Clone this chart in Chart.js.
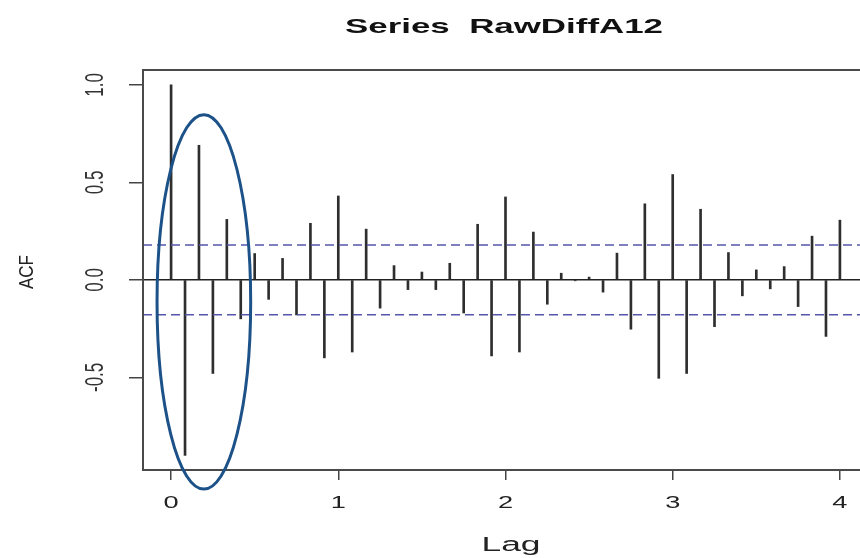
<!DOCTYPE html>
<html>
<head>
<meta charset="utf-8">
<title>Series RawDiffA12</title>
<script src="https://cdn.jsdelivr.net/npm/chart.js@4"></script>
<style>
    html, body { margin: 0; padding: 0; background: #fff; overflow: hidden; }
    #wrap { width: 872px; height: 558px; }
</style>
</head>
<body>
<div id="wrap"><canvas id="acfChart" width="872" height="558"></canvas></div>
<script>
// ====== Data ======
const seriesName = 'RawDiffA12';
const lagTicks = [0, 1, 2, 3, 4];
const acfTicks = [-0.5, 0, 0.5, 1];
const acfTickLabels = ['-0.5', '0.0', '0.5', '1.0'];
// acf at lags 0..48 months (frequency 12)
const acfValues = [
    1.00, -0.90, 0.69, -0.48, 0.31, -0.20, 0.135, -0.10, 0.11, -0.18, 0.29, -0.40,
    0.43, -0.37, 0.26, -0.145, 0.073, -0.05, 0.04, -0.05, 0.085, -0.17, 0.285, -0.39,
    0.425, -0.37, 0.245, -0.125, 0.034, -0.005, 0.014, -0.063, 0.137, -0.253, 0.39, -0.505,
    0.54, -0.48, 0.362, -0.24, 0.14, -0.082, 0.051, -0.046, 0.068, -0.137, 0.224, -0.29,
    0.306
];
const frequency = 12;
const confLimit = 0.179;
// highlight ellipse (data units): centre lag, centre acf, half-widths
const ellipseLag = 0.196, ellipseAcf = -0.113, ellipseRx = 0.28, ellipseRy = 0.96;

document.addEventListener('DOMContentLoaded', () => {
    const lags = acfValues.map((_, k) => k / frequency);
    const xMin = -0.168, xMax = 4.168;
    const yMin = -0.975, yMax = 1.076;
    const FONT = '"Liberation Sans", Arial, sans-serif';

    // stretched text helper (the reference image is widened horizontally)
    function drawText(ctx, text, x, y, opts) {
        ctx.save();
        ctx.font = opts.font;
        ctx.fillStyle = opts.color || '#222';
        ctx.textAlign = opts.align || 'center';
        ctx.textBaseline = 'alphabetic';
        let sx = opts.sx || 1;
        if (opts.width) sx = opts.width / ctx.measureText(text).width;
        ctx.translate(x, y);
        ctx.scale(sx, 1);
        if (opts.rot) ctx.rotate(opts.rot);
        ctx.fillText(text, 0, 0);
        ctx.restore();
    }

    // ====== Decorations: frame, texts, ellipse ======
    const decor = {
        id: 'decor',
        afterDraw(chart) {
            const { ctx, chartArea: a, scales: { x, y } } = chart;

            ctx.save();
            ctx.strokeStyle = '#4a4a4a';
            ctx.lineWidth = 2;
            ctx.strokeRect(a.left, a.top, a.right - a.left, a.bottom - a.top);
            ctx.restore();

            drawText(ctx, 'Series  ' + seriesName, 504, 33, { font: 'bold 21px ' + FONT, width: 318, color: '#111' });
            drawText(ctx, 'Lag', 511, 551, { font: '20px ' + FONT, width: 59, color: '#222' });
            drawText(ctx, 'ACF', 33, 272, { font: '17px ' + FONT, sx: 1.15, rot: -Math.PI / 2, color: '#222' });

            lagTicks.forEach(v => {
                drawText(ctx, String(v), x.getPixelForValue(v), 508, { font: '17px ' + FONT, sx: 1.6, color: '#222' });
            });
            acfTicks.forEach((v, i) => {
                drawText(ctx, acfTickLabels[i], 103, y.getPixelForValue(v), { font: '17px ' + FONT, sx: 1.55, rot: -Math.PI / 2, color: '#333' });
            });

            ctx.save();
            ctx.strokeStyle = '#1d5289';
            ctx.lineWidth = 3;
            const cx = x.getPixelForValue(ellipseLag), cy = y.getPixelForValue(ellipseAcf);
            const rx = x.getPixelForValue(ellipseLag + ellipseRx) - cx;
            const ry = cy - y.getPixelForValue(ellipseAcf + ellipseRy);
            ctx.beginPath();
            ctx.ellipse(cx, cy, rx, ry, 0, 0, Math.PI * 2);
            ctx.stroke();
            ctx.restore();
        }
    };

    const hLine = v => [{ x: xMin, y: v }, { x: xMax, y: v }];

    new Chart(document.getElementById('acfChart'), {
        type: 'line',
        data: {
            datasets: [
                {
                    type: 'bar',
                    data: lags.map((l, i) => ({ x: l, y: acfValues[i] })),
                    backgroundColor: '#2e2e2e',
                    barThickness: 2,
                    grouped: false,
                    order: 2
                },
                { data: hLine(0), borderColor: '#222', borderWidth: 1.5, pointRadius: 0, order: 1 },
                { data: hLine(confLimit), borderColor: '#5656ac', borderWidth: 1.6, borderDash: [9, 5], pointRadius: 0, order: 1 },
                { data: hLine(-confLimit), borderColor: '#5656ac', borderWidth: 1.6, borderDash: [9, 5], pointRadius: 0, order: 1 }
            ]
        },
        options: {
            responsive: false,
            animation: false,
            devicePixelRatio: 1,
            layout: { padding: { left: 0, top: 70, right: 4, bottom: 0 } },
            plugins: { legend: { display: false }, tooltip: { enabled: false }, title: { display: false } },
            scales: {
                x: {
                    type: 'linear', min: xMin, max: xMax, offset: false,
                    ticks: { stepSize: 1, includeBounds: false, display: false },
                    grid: { drawOnChartArea: false, drawTicks: true, tickLength: 10, color: '#444', lineWidth: 1.5, offset: false },
                    border: { display: true, color: '#4a4a4a', width: 2 },
                    afterFit: s => { s.height = 88; }
                },
                y: {
                    min: yMin, max: yMax,
                    ticks: { stepSize: 0.5, includeBounds: false, display: false },
                    grid: { drawOnChartArea: false, drawTicks: true, tickLength: 14, color: '#444', lineWidth: 1.5 },
                    border: { display: true, color: '#4a4a4a', width: 2 },
                    afterFit: s => { s.width = 143; }
                }
            }
        },
        plugins: [decor]
    });
});
</script>
</body>
</html>
